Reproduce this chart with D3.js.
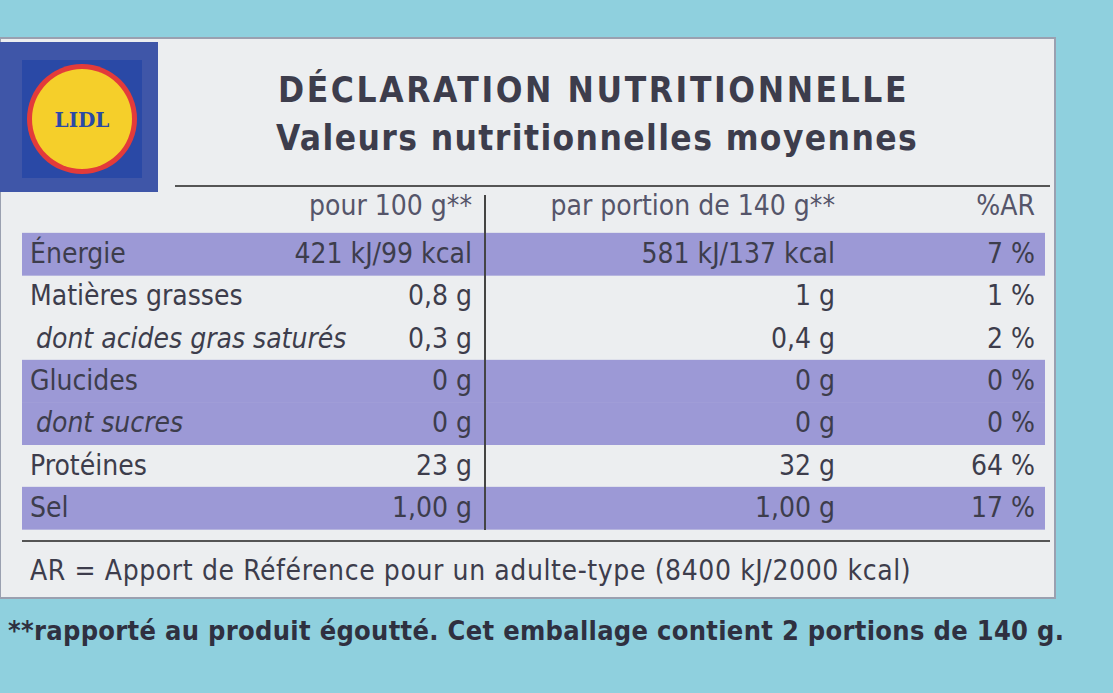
<!DOCTYPE html>
<html><head><meta charset="utf-8">
<script src="https://cdn.jsdelivr.net/npm/d3@7"></script>
<style>body{margin:0;background:#8fd0de}svg{display:block}text{font-family:"DejaVu Sans Condensed","DejaVu Sans",sans-serif;fill:#3d3d4c}</style>
</head><body><svg id="c" width="1113" height="693"></svg>
<script>
const labels = ["Énergie", "Matières grasses", "dont acides gras saturés", "Glucides", "dont sucres", "Protéines", "Sel"];
const per100 = ["421 kJ/99 kcal", "0,8 g", "0,3 g", "0 g", "0 g", "23 g", "1,00 g"];
const perPortion = ["581 kJ/137 kcal", "1 g", "0,4 g", "0 g", "0 g", "32 g", "1,00 g"];
const ar = ["7 %", "1 %", "2 %", "0 %", "0 %", "64 %", "17 %"];
const indented = [false, false, true, false, true, false, false];
const shaded = [true, false, false, true, true, false, true];
const headers = ["pour 100 g**", "par portion de 140 g**", "%AR"];

const svg = d3.select("#c");
// background & panel
svg.append("rect").attr("width", 1113).attr("height", 693).attr("fill", "#8fd0de");
svg.append("rect").attr("x", 0).attr("y", 38).attr("width", 1055).attr("height", 560)
  .attr("fill", "#eceef0").attr("stroke", "#9aa0b0").attr("stroke-width", 2);

// logo
const logo = svg.append("g");
logo.append("rect").attr("x", 0).attr("y", 42).attr("width", 158).attr("height", 150).attr("fill", "#3f56a8");
logo.append("rect").attr("x", 22).attr("y", 60).attr("width", 120).attr("height", 118).attr("fill", "#2a49a6");
logo.append("circle").attr("cx", 82).attr("cy", 119).attr("r", 55).attr("fill", "#e33b3a");
logo.append("circle").attr("cx", 82).attr("cy", 119).attr("r", 50).attr("fill", "#f5cf2a");
logo.append("text").attr("x", 82).attr("y", 127).attr("text-anchor", "middle")
  .style("font-family", "DejaVu Serif").style("font-weight", "bold").style("font-size", "20px")
  .style("fill", "#2a49a6").text("LIDL");

// header
svg.append("text").attr("x", 278).attr("y", 102).style("font-size", "35px").style("font-weight", "bold")
  .style("letter-spacing", "2.6px").text("DÉCLARATION NUTRITIONNELLE");
svg.append("text").attr("x", 276).attr("y", 150).style("font-size", "35px").style("font-weight", "bold")
  .style("letter-spacing", "1.4px").text("Valeurs nutritionnelles moyennes");
svg.append("line").attr("x1", 175).attr("x2", 1050).attr("y1", 186).attr("y2", 186).attr("stroke", "#555").attr("stroke-width", 2);

const y = d3.scalePoint().domain(d3.range(labels.length)).range([253, 507]);
const step = y.step();
const colX = [472, 835, 1035];

// shaded bands
svg.selectAll("rect.band").data(d3.range(labels.length).filter(i => shaded[i])).join("rect")
  .attr("class", "band").attr("x", 22).attr("width", 1023)
  .attr("y", i => y(i) - step / 2 + 1).attr("height", step + 0.5).attr("fill", "#9c99d6");

// column headers
svg.selectAll("text.hd").data(headers).join("text").attr("class", "hd")
  .attr("x", (d, i) => colX[i]).attr("y", 215).attr("text-anchor", "end")
  .style("font-size", "28px").style("fill", "#55556a").text(d => d);

svg.append("line").attr("x1", 485).attr("x2", 485).attr("y1", 195).attr("y2", 530).attr("stroke", "#444").attr("stroke-width", 2);

const rows = svg.selectAll("g.row").data(labels).join("g").attr("class", "row")
  .attr("transform", (d, i) => `translate(0,${y(i) + 10})`);
rows.append("text").attr("x", (d, i) => indented[i] ? 36 : 30)
  .style("font-size", "28px").style("font-style", (d, i) => indented[i] ? "italic" : "normal").text(d => d);
rows.append("text").attr("x", colX[0]).attr("text-anchor", "end").style("font-size", "28px").text((d, i) => per100[i]);
rows.append("text").attr("x", colX[1]).attr("text-anchor", "end").style("font-size", "28px").text((d, i) => perPortion[i]);
rows.append("text").attr("x", colX[2]).attr("text-anchor", "end").style("font-size", "28px").text((d, i) => ar[i]);

svg.append("line").attr("x1", 22).attr("x2", 1050).attr("y1", 541).attr("y2", 541).attr("stroke", "#555").attr("stroke-width", 2);
svg.append("text").attr("x", 30).attr("y", 580).style("font-size", "28px").style("letter-spacing", "0.6px")
  .text("AR = Apport de Référence pour un adulte-type (8400 kJ/2000 kcal)");
svg.append("text").attr("x", 8).attr("y", 640).style("font-size", "27px").style("font-weight", "bold").style("fill", "#2f3040")
  .style("letter-spacing", "0.3px")
  .text("**rapporté au produit égoutté. Cet emballage contient 2 portions de 140 g.");
</script></body></html>
